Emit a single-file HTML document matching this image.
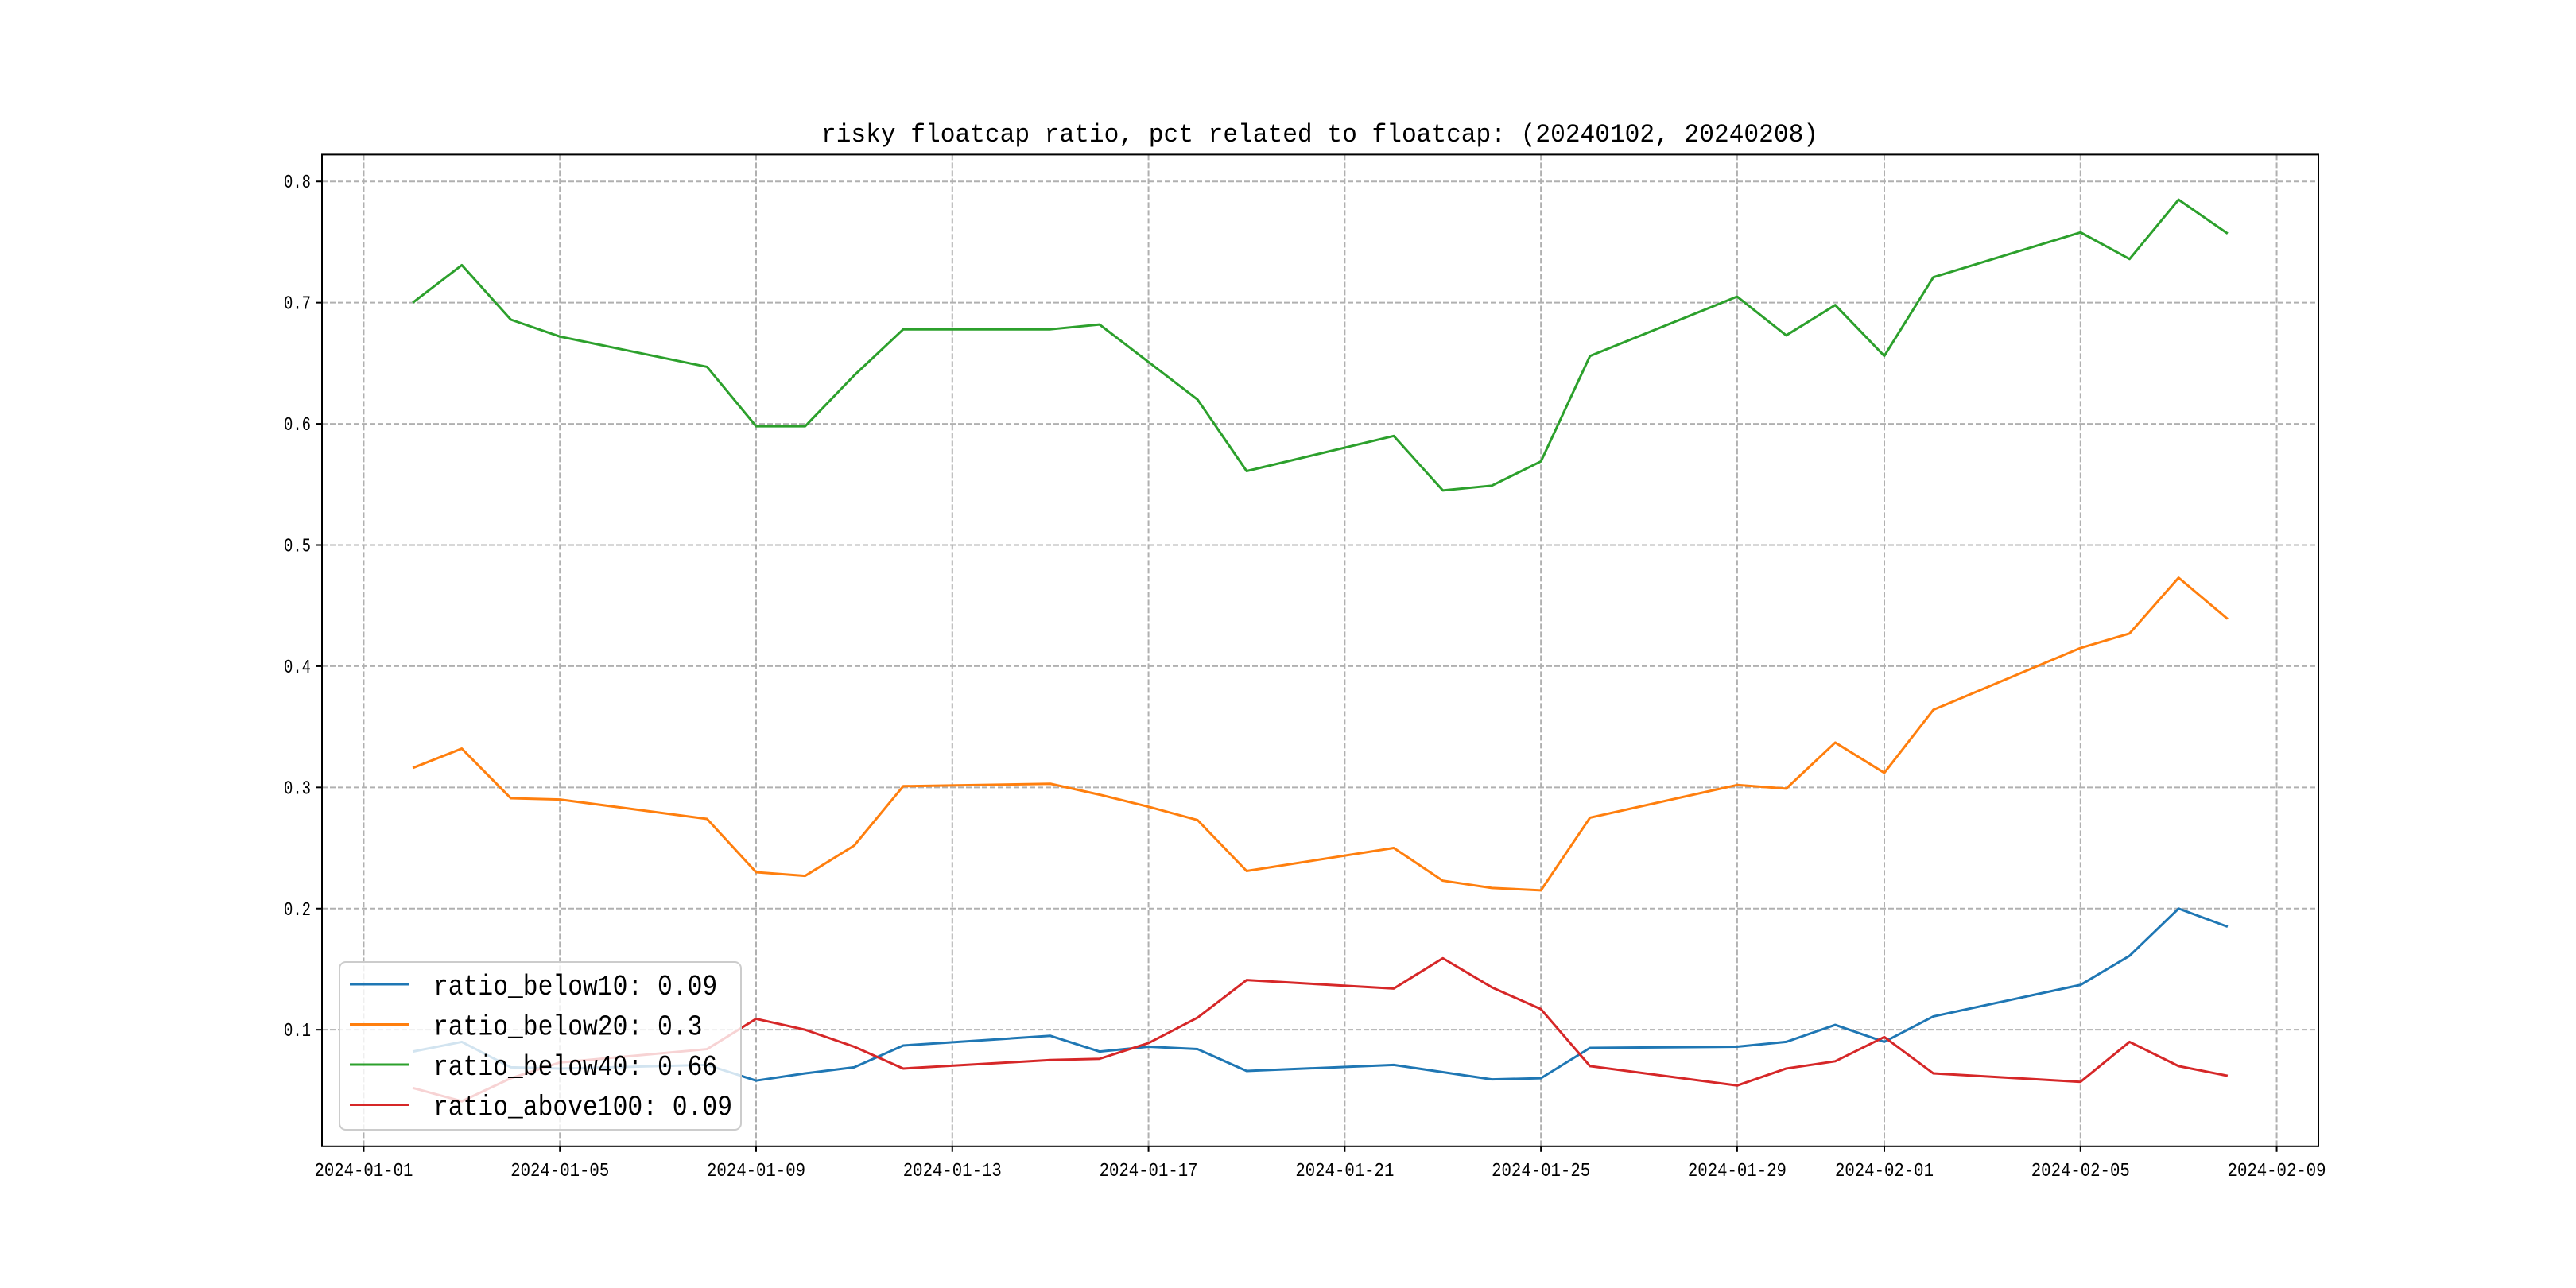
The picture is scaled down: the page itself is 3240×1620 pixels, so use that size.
<!DOCTYPE html>
<html><head><meta charset="utf-8"><style>
html,body{margin:0;padding:0;background:#fff}
svg{display:block}
text{font-family:"Liberation Mono","Noto Sans CJK SC",monospace}
</style></head><body>
<svg id="chart" width="3240" height="1620" viewBox="0 0 3240 1620" xmlns="http://www.w3.org/2000/svg">
<rect width="3240" height="1620" fill="#fff"/>
<text x="1660" y="178" font-size="32" text-anchor="middle" textLength="1254" lengthAdjust="spacingAndGlyphs">risky floatcap ratio, pct related to floatcap: (20240102, 20240208)</text>
<g id="grid"></g>
<g id="series"></g>
<g id="axes"></g>
<g id="legend"></g>
</svg>
<script>
const dates = ["2024-01-02","2024-01-03","2024-01-04","2024-01-05","2024-01-08","2024-01-09","2024-01-10","2024-01-11","2024-01-12","2024-01-15","2024-01-16","2024-01-17","2024-01-18","2024-01-19","2024-01-22","2024-01-23","2024-01-24","2024-01-25","2024-01-26","2024-01-29","2024-01-30","2024-01-31","2024-02-01","2024-02-02","2024-02-05","2024-02-06","2024-02-07","2024-02-08"];
const below10 = [0.082,0.090,0.069,0.068,0.071,0.058,0.064,0.069,0.087,0.095,0.082,0.086,0.084,0.066,0.071,0.065,0.059,0.060,0.085,0.086,0.090,0.104,0.090,0.111,0.137,0.161,0.200,0.185];
const below20 = [0.316,0.332,0.291,0.290,0.274,0.230,0.227,0.252,0.301,0.303,0.294,0.284,0.273,0.231,0.250,0.223,0.217,0.215,0.275,0.302,0.299,0.337,0.312,0.364,0.415,0.427,0.473,0.439];
const below40 = [0.700,0.731,0.686,0.672,0.647,0.598,0.598,0.640,0.678,0.678,0.682,0.651,0.620,0.561,0.590,0.545,0.549,0.569,0.656,0.705,0.673,0.698,0.656,0.721,0.758,0.736,0.785,0.757];
const above100 = [0.052,0.041,0.060,0.073,0.084,0.109,0.100,0.086,0.068,0.075,0.076,0.089,0.110,0.141,0.134,0.159,0.135,0.117,0.070,0.054,0.068,0.074,0.094,0.064,0.057,0.090,0.070,0.062];
const seriesNames = ["ratio_below10: 0.09","ratio_below20: 0.3","ratio_below40: 0.66","ratio_above100: 0.09"];
const xTicks = ["2024-01-01","2024-01-05","2024-01-09","2024-01-13","2024-01-17","2024-01-21","2024-01-25","2024-01-29","2024-02-01","2024-02-05","2024-02-09"];
const yTicks = [0.1,0.2,0.3,0.4,0.5,0.6,0.7,0.8];

const NS="http://www.w3.org/2000/svg";
const L=405,R=2916,T=194.4,B=1441.8;
const colors=["#1f77b4","#ff7f0e","#2ca02c","#d62728"];
const allSeries=[below10,below20,below40,above100];
const day=s=>Date.parse(s+"T00:00:00Z")/86400000;
const d0=day(dates[0]),d1=day(dates[dates.length-1]);
const xmin=d0-(d1-d0)*0.05,xmax=d1+(d1-d0)*0.05;
const allV=allSeries.flat();
const vmin=Math.min(...allV),vmax=Math.max(...allV);
const ymin=vmin-(vmax-vmin)*0.05,ymax=vmax+(vmax-vmin)*0.05;
const X=s=>L+(day(s)-xmin)/(xmax-xmin)*(R-L);
const Y=v=>B-(v-ymin)/(ymax-ymin)*(B-T);
function mk(tag,attrs,parent){const e=document.createElementNS(NS,tag);for(const k in attrs)e.setAttribute(k,attrs[k]);parent.appendChild(e);return e;}
const grid=document.getElementById('grid'),axes=document.getElementById('axes'),ser=document.getElementById('series'),leg=document.getElementById('legend');
xTicks.forEach(t=>{const x=X(t);
 const g=mk('line',{x1:x,x2:x,y1:T,y2:B,stroke:'#b0b0b0','stroke-width':2,'stroke-dasharray':'7,3'},grid);
 
 
 const tk=mk('line',{x1:x,x2:x,y1:B,y2:B+7,stroke:'#000','stroke-width':2},axes);
 
 
 const tx=mk('text',{x:x,y:B+37,'font-size':24,'text-anchor':'middle',textLength:124,lengthAdjust:'spacingAndGlyphs'},axes);
 tx.textContent=t;
 
 
});
yTicks.forEach(v=>{const y=Y(v);
 const g=mk('line',{x1:L,x2:R,y1:y,y2:y,stroke:'#b0b0b0','stroke-width':2,'stroke-dasharray':'7,3'},grid);
 
 
 const tk=mk('line',{x1:L-7,x2:L,y1:y,y2:y,stroke:'#000','stroke-width':2},axes);
 
 
 const tx=mk('text',{x:L-14,y:y+8,'font-size':24,'text-anchor':'end',textLength:34,lengthAdjust:'spacingAndGlyphs'},axes);
 tx.textContent=v.toFixed(1);
 
 
});
const frame=mk('rect',{x:L,y:T,width:R-L,height:B-T,fill:'none',stroke:'#000','stroke-width':2},axes);


allSeries.forEach((s,i)=>{
 const p=mk('polyline',{points:s.map((v,j)=>X(dates[j])+','+Y(v)).join(' '),fill:'none',stroke:colors[i],'stroke-width':3,'stroke-linejoin':'round'},ser);
 
 
});
const box=mk('rect',{x:427,y:1210,width:505,height:211,rx:8,fill:'#fff','fill-opacity':0.8,stroke:'#cccccc','stroke-width':2},leg);


seriesNames.forEach((n,i)=>{const y=1238+i*50.5;
 const ln=mk('line',{x1:440,x2:514,y1:y,y2:y,stroke:colors[i],'stroke-width':3},leg);
 
 
 const tx=mk('text',{x:545,y:y+13,'font-size':36,textLength:n.length*18.8,lengthAdjust:'spacingAndGlyphs'},leg);
 tx.textContent=n;
 
 
});
</script>
</body></html>
